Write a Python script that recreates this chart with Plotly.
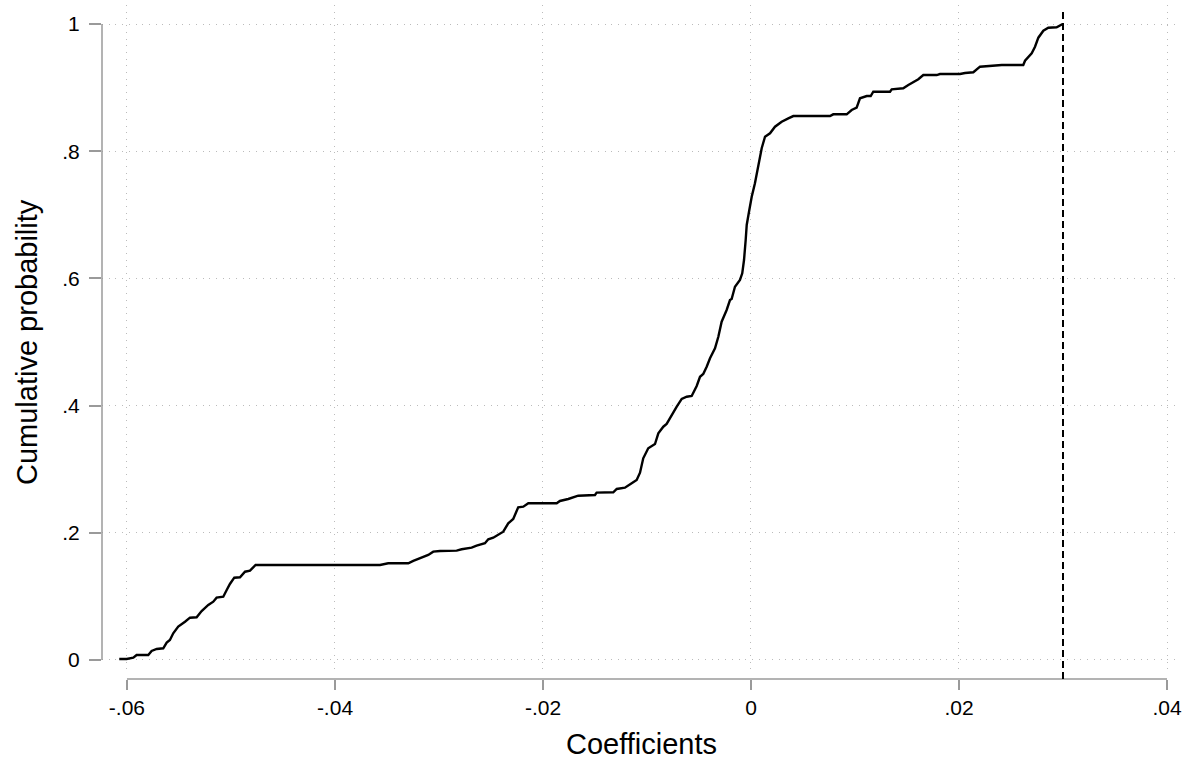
import plotly.graph_objects as go

coef = [-0.06074, -0.06003, -0.05939, -0.05907, -0.05795, -0.05763, -0.05714, -0.05651,
        -0.05618, -0.05587, -0.05555, -0.05507, -0.05442, -0.05394, -0.05330, -0.05282,
        -0.05218, -0.05170, -0.05138, -0.05074, -0.05041, -0.05010, -0.04968, -0.04913,
        -0.04865, -0.04817, -0.04763, -0.03567, -0.03488, -0.03295, -0.03247, -0.03183,
        -0.03103, -0.03055, -0.02990, -0.02830, -0.02782, -0.02686, -0.02638, -0.02558,
        -0.02526, -0.02478, -0.02430, -0.02382, -0.02334, -0.02286, -0.02238, -0.02189,
        -0.02141, -0.01868, -0.01837, -0.01757, -0.01661, -0.01500, -0.01484, -0.01324,
        -0.01291, -0.01212, -0.01147, -0.01099, -0.01067, -0.01036, -0.00988, -0.00923,
        -0.00891, -0.00843, -0.00811, -0.00763, -0.00714, -0.00666, -0.00618, -0.00570,
        -0.00522, -0.00490, -0.00459, -0.00426, -0.00394, -0.00346, -0.00314, -0.00282,
        -0.00234, -0.00202, -0.00186, -0.00154, -0.00106, -0.00084, -0.00067, -0.00051,
        -0.00041, -0.00019, 0.00007, 0.00038, 0.00070, 0.00103, 0.00135, 0.00183,
        0.00231, 0.00295, 0.00359, 0.00407, 0.00760, 0.00791, 0.00920, 0.00968,
        0.01016, 0.01048, 0.01113, 0.01151, 0.01176, 0.01337, 0.01353, 0.01464,
        0.01513, 0.01561, 0.01609, 0.01657, 0.01786, 0.01817, 0.02010, 0.02058,
        0.02138, 0.02202, 0.02330, 0.02411, 0.02618, 0.02635, 0.02699, 0.02731,
        0.02763, 0.02811, 0.02859, 0.02939, 0.02997]
cumprob = [0.0016, 0.0016, 0.0036, 0.0079, 0.0079, 0.0142, 0.0173, 0.0184,
           0.0272, 0.0314, 0.0420, 0.0524, 0.0602, 0.0665, 0.0671, 0.0770,
           0.0865, 0.0917, 0.0980, 0.0995, 0.1101, 0.1195, 0.1294, 0.1300,
           0.1388, 0.1404, 0.1494, 0.1494, 0.1520, 0.1520, 0.1557, 0.1599,
           0.1651, 0.1703, 0.1714, 0.1719, 0.1741, 0.1766, 0.1797, 0.1835,
           0.1898, 0.1923, 0.1976, 0.2017, 0.2149, 0.2217, 0.2401, 0.2410,
           0.2464, 0.2464, 0.2500, 0.2531, 0.2583, 0.2594, 0.2631, 0.2637,
           0.2689, 0.2709, 0.2778, 0.2830, 0.2945, 0.3171, 0.3329, 0.3396,
           0.3564, 0.3668, 0.3711, 0.3852, 0.3983, 0.4104, 0.4140, 0.4151,
           0.4308, 0.4454, 0.4497, 0.4612, 0.4744, 0.4901, 0.5083, 0.5319,
           0.5503, 0.5660, 0.5676, 0.5870, 0.5975, 0.6080, 0.6289, 0.6604,
           0.6840, 0.7049, 0.7285, 0.7495, 0.7756, 0.8046, 0.8228, 0.8281,
           0.8385, 0.8464, 0.8517, 0.8553, 0.8553, 0.8580, 0.8580, 0.8648,
           0.8684, 0.8832, 0.8868, 0.8868, 0.8936, 0.8936, 0.8973, 0.8989,
           0.9041, 0.9093, 0.9131, 0.9198, 0.9198, 0.9214, 0.9214, 0.9230,
           0.9241, 0.9329, 0.9340, 0.9355, 0.9355, 0.9423, 0.9539, 0.9643,
           0.9785, 0.9895, 0.9942, 0.9948, 1.0000]

x_ticks = [-0.06, -0.04, -0.02, 0.0, 0.02, 0.04]
x_ticklabels = ["-.06", "-.04", "-.02", "0", ".02", ".04"]
y_ticks = [0.0, 0.2, 0.4, 0.6, 0.8, 1.0]
y_ticklabels = ["0", ".2", ".4", ".6", ".8", "1"]
ref_line_x = 0.03
x_title = "Coefficients"
y_title = "Cumulative probability"

FONT = "Liberation Sans, Arial, sans-serif"
AXIS_COLOR = "#9a9a9a"
GRID_COLOR = "#bbbbbb"

fig = go.Figure()
fig.add_trace(go.Scatter(
    x=coef, y=cumprob, mode="lines",
    line=dict(color="black", width=2.4),
    showlegend=False, hoverinfo="skip",
))

fig.update_layout(
    width=1190, height=759,
    margin=dict(l=102, r=10, t=5, b=80),
    paper_bgcolor="white", plot_bgcolor="white",
    font=dict(family=FONT, size=21, color="black"),
    xaxis=dict(
        range=[-0.0624, 0.04125],
        anchor="free", position=0,
        tickvals=x_ticks, ticktext=x_ticklabels,
        ticks="outside", ticklen=10, tickwidth=1.5, tickcolor=AXIS_COLOR,
        showline=False, zeroline=False, automargin=False,
        showgrid=True, gridcolor=GRID_COLOR, gridwidth=1, griddash="1px,5.7px",
        tickfont=dict(size=21),
    ),
    yaxis=dict(
        range=[-0.0189, 1.0299],
        domain=[0.0104, 1],
        tickvals=y_ticks, ticktext=y_ticklabels,
        ticks="outside", ticklen=12, tickwidth=1.5, tickcolor=AXIS_COLOR,
        showline=False, zeroline=False, automargin=False,
        showgrid=True, gridcolor=GRID_COLOR, gridwidth=1, griddash="1px,5.7px",
        tickfont=dict(size=21),
        ticklabelstandoff=5,
    ),
    annotations=[
        dict(text=x_title, xref="paper", yref="paper", x=0.5, y=-0.0964,
             xanchor="center", yanchor="middle", showarrow=False,
             font=dict(size=29)),
        dict(text=y_title, xref="paper", yref="paper", x=0, y=0.5,
             xshift=-75, textangle=-90,
             xanchor="center", yanchor="middle", showarrow=False,
             font=dict(size=29)),
    ],
    shapes=[
        # y axis line spanning 0..1
        dict(type="line", xref="paper", yref="y", x0=0, x1=0,
             y0=y_ticks[0], y1=y_ticks[-1],
             line=dict(color=AXIS_COLOR, width=1.5), layer="above"),
        # x axis line spanning -.06..04
        dict(type="line", xref="x", yref="paper", x0=x_ticks[0], x1=x_ticks[-1],
             y0=0, y1=0,
             line=dict(color=AXIS_COLOR, width=1.5), layer="above"),
        # reference line
        dict(type="line", xref="x", yref="paper", x0=ref_line_x, x1=ref_line_x,
             y0=0, y1=0.9926,
             line=dict(color="black", width=2, dash="7px,4px"), layer="above"),
    ],
)

fig.write_html("out.html", config={"displayModeBar": False},
               post_script="document.body.style.margin='0';")
